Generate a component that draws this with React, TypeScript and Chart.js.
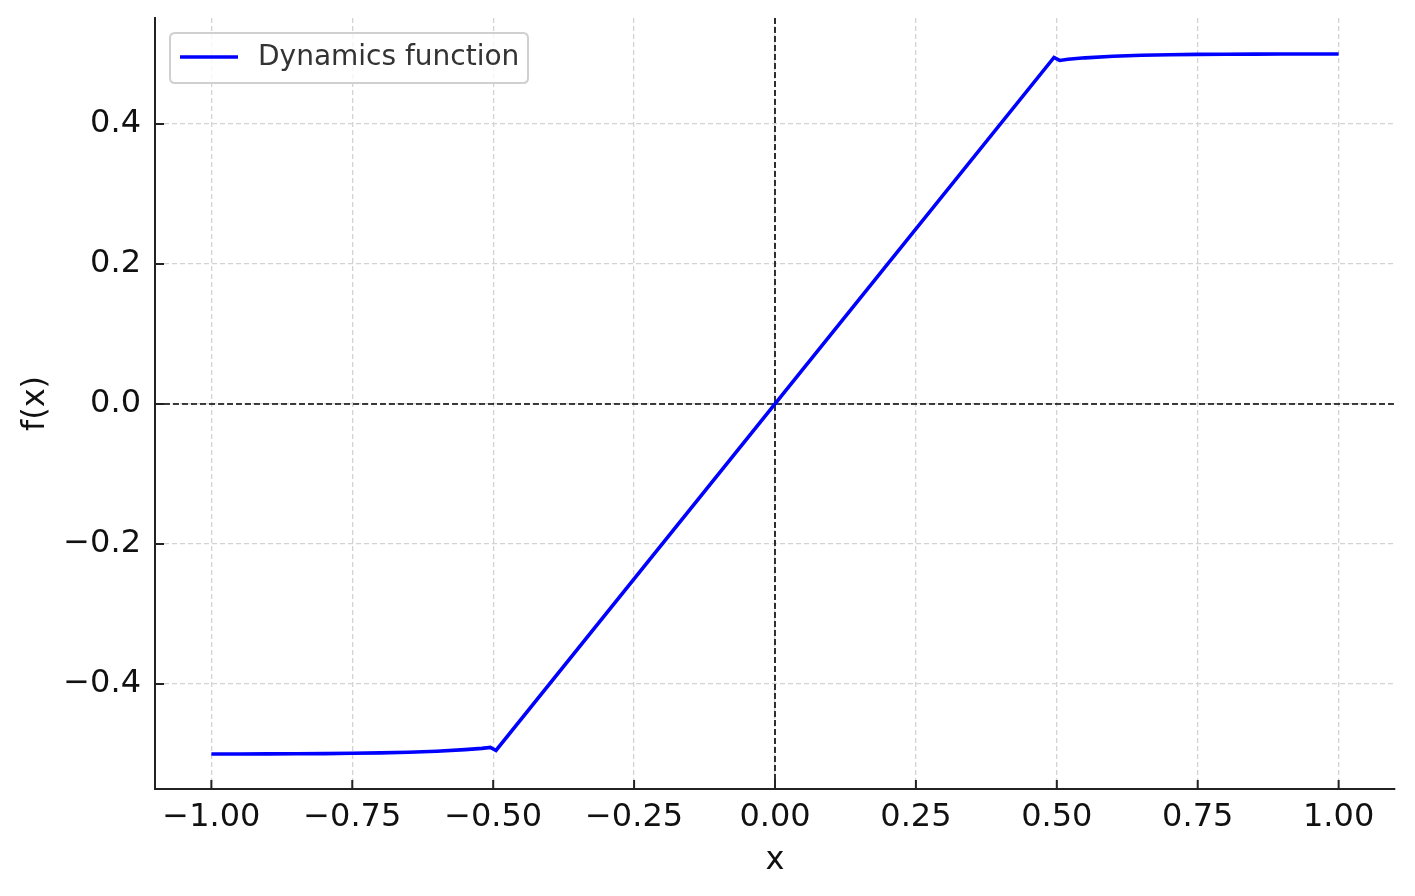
import React, { useEffect, useRef } from "react";
import { Chart, registerables } from "chart.js";

Chart.register(...registerables);

const xValues = [-1, -0.95, -0.9, -0.85, -0.8, -0.75, -0.7, -0.65, -0.6, -0.55, -0.52, -0.505, -0.495, 0, 0.495, 0.505, 0.52, 0.55, 0.6, 0.65, 0.7, 0.75, 0.8, 0.85, 0.9, 0.95, 1.0];
const yValues = [-0.5, -0.4999, -0.4998, -0.4996, -0.4994, -0.499, -0.4984, -0.4975, -0.496, -0.4938, -0.492, -0.4905, -0.495, 0, 0.495, 0.4908, 0.4925, 0.4945, 0.4968, 0.4982, 0.499, 0.4995, 0.4997, 0.4998, 0.4999, 0.5, 0.5];
const xTicks = [-1, -0.75, -0.5, -0.25, 0, 0.25, 0.5, 0.75, 1];
const yTicks = [-0.4, -0.2, 0, 0.2, 0.4];
const seriesLabel = "Dynamics function";
const xTitle = "x";
const yTitle = "f(x)";

const FONT = "'DejaVu Sans', sans-serif";
const minus = (s: string) => s.replace("-", "\u2212");

const overlayPlugin = {
  id: "overlay",
  beforeDatasetsDraw(chart: any) {
    const { ctx, chartArea, scales } = chart;
    const x0 = scales.x.getPixelForValue(0);
    const y0 = scales.y.getPixelForValue(0);
    ctx.save();
    ctx.strokeStyle = "#000";
    ctx.lineWidth = 1.6;
    ctx.setLineDash([6, 3]);
    ctx.beginPath();
    ctx.moveTo(chartArea.left, y0);
    ctx.lineTo(chartArea.right, y0);
    ctx.moveTo(x0, chartArea.top);
    ctx.lineTo(x0, chartArea.bottom);
    ctx.stroke();
    ctx.restore();
  },
  afterDraw(chart: any) {
    const { ctx, chartArea, scales } = chart;
    ctx.save();
    ctx.strokeStyle = "#222";
    ctx.lineWidth = 2;
    ctx.setLineDash([]);
    ctx.beginPath();
    xTicks.forEach((v) => {
      const px = scales.x.getPixelForValue(v);
      ctx.moveTo(px, chartArea.bottom);
      ctx.lineTo(px, chartArea.bottom - 9);
    });
    yTicks.forEach((v) => {
      const py = scales.y.getPixelForValue(v);
      ctx.moveTo(chartArea.left, py);
      ctx.lineTo(chartArea.left + 9, py);
    });
    ctx.stroke();
    const lx = chartArea.left + 15;
    const ly = chartArea.top + 15;
    const lw = 358;
    const lh = 50;
    const r = 5;
    ctx.fillStyle = "rgba(255,255,255,0.8)";
    ctx.strokeStyle = "#d0d0d0";
    ctx.lineWidth = 2;
    ctx.beginPath();
    ctx.moveTo(lx + r, ly);
    ctx.lineTo(lx + lw - r, ly);
    ctx.quadraticCurveTo(lx + lw, ly, lx + lw, ly + r);
    ctx.lineTo(lx + lw, ly + lh - r);
    ctx.quadraticCurveTo(lx + lw, ly + lh, lx + lw - r, ly + lh);
    ctx.lineTo(lx + r, ly + lh);
    ctx.quadraticCurveTo(lx, ly + lh, lx, ly + lh - r);
    ctx.lineTo(lx, ly + r);
    ctx.quadraticCurveTo(lx, ly, lx + r, ly);
    ctx.closePath();
    ctx.fill();
    ctx.stroke();
    ctx.strokeStyle = "#0000ff";
    ctx.lineWidth = 3.5;
    ctx.beginPath();
    ctx.moveTo(lx + 10, ly + 24);
    ctx.lineTo(lx + 68, ly + 24);
    ctx.stroke();
    ctx.fillStyle = "#333";
    ctx.font = `28px ${FONT}`;
    ctx.textBaseline = "middle";
    ctx.textAlign = "left";
    ctx.fillText(seriesLabel, lx + 88, ly + 25);
    ctx.restore();
  },
};

export default function App() {
  const canvasRef = useRef<HTMLCanvasElement | null>(null);
  useEffect(() => {
    if (!canvasRef.current) return;
    const chart = new Chart(canvasRef.current, {
      type: "line",
      data: {
        datasets: [
          {
            label: seriesLabel,
            data: xValues.map((x, i) => ({ x, y: yValues[i] })),
            borderColor: "#0000ff",
            borderWidth: 3.6,
            pointRadius: 0,
            fill: false,
            tension: 0,
          },
        ],
      },
      options: {
        animation: false,
        responsive: false,
        maintainAspectRatio: false,
        layout: { padding: { left: 0, top: 18, right: 20, bottom: 0 } },
        plugins: { legend: { display: false }, tooltip: { enabled: false } },
        scales: {
          x: {
            type: "linear",
            min: -1.1,
            max: 1.1,
            afterBuildTicks: (s: any) => {
              s.ticks = xTicks.map((v) => ({ value: v }));
            },
            afterFit: (s: any) => {
              s.height = 107;
              s.paddingLeft = 0;
              s.paddingRight = 0;
            },
            grid: { color: "#d3d3d3", lineWidth: 1.3, drawTicks: false },
            border: { display: true, color: "#222", width: 2, dash: [5, 3] },
            ticks: {
              padding: 9,
              color: "#111",
              font: { family: FONT, size: 32 },
              maxRotation: 0,
              autoSkip: false,
              callback: (v: any) => minus(Number(v).toFixed(2)),
            },
            title: {
              display: true,
              text: xTitle,
              color: "#111",
              font: { family: FONT, size: 32 },
              padding: { top: 4, bottom: 16 },
            },
          },
          y: {
            type: "linear",
            min: -0.55,
            max: 0.5514,
            afterBuildTicks: (s: any) => {
              s.ticks = yTicks.map((v) => ({ value: v }));
            },
            afterFit: (s: any) => {
              s.width = 155;
              s.paddingTop = 0;
              s.paddingBottom = 0;
            },
            grid: { color: "#d3d3d3", lineWidth: 1.3, drawTicks: false },
            border: { display: true, color: "#222", width: 2, dash: [5, 3] },
            ticks: {
              padding: 14,
              color: "#111",
              font: { family: FONT, size: 32 },
              autoSkip: false,
              callback: (v: any) => minus(Number(v).toFixed(1)),
            },
            title: {
              display: true,
              text: yTitle,
              color: "#111",
              font: { family: FONT, size: 32 },
              padding: { top: 16, bottom: 0 },
            },
          },
        },
      },
      plugins: [overlayPlugin],
    } as any);
    return () => chart.destroy();
  }, []);
  return (
    <div style={{ position: "fixed", left: 0, top: 0, width: 1415, height: 896, background: "#fff" }}>
      <canvas ref={canvasRef} width={1415} height={896} style={{ width: 1415, height: 896 }} />
    </div>
  );
}
